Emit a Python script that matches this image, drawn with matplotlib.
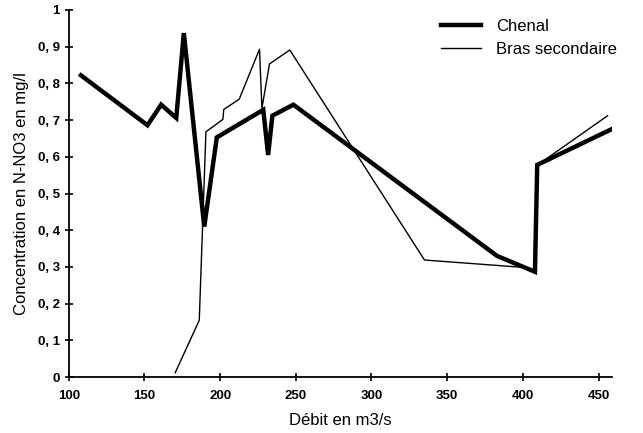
# coding: utf-8
from matplotlib import pyplot as plt
from matplotlib.ticker import FuncFormatter

plt.rcParams['font.family'] = ['Liberation Sans', 'DejaVu Sans']

# Chenal (trait épais)
chenal_x = [108, 152, 161, 171, 176, 189.5, 197.8, 228.5, 231.7, 234.5, 248.4, 383, 408, 409.5, 458.5]
chenal_y = [0.822, 0.686, 0.742, 0.706, 0.937, 0.41, 0.653, 0.728, 0.605, 0.712, 0.742, 0.33, 0.287, 0.578, 0.675]

# Bras secondaire (trait fin)
bras_x = [170.3, 186.2, 190.6, 201.8, 202.4, 212.6, 226, 227.6, 232.6, 246, 335, 400, 408, 409.8, 456]
bras_y = [0.012, 0.155, 0.668, 0.702, 0.729, 0.757, 0.893, 0.732, 0.853, 0.891, 0.319, 0.299, 0.29, 0.578, 0.712]

x_ticks = [100, 150, 200, 250, 300, 350, 400, 450]
y_ticks = [0, 0.1, 0.2, 0.3, 0.4, 0.5, 0.6, 0.7, 0.8, 0.9, 1]

fig = plt.figure(figsize=(6.43, 4.33), dpi=100)
ax = fig.add_axes([0.107, 0.129, 0.845, 0.848])

ax.plot(chenal_x, chenal_y, color='black', lw=3.2, solid_joinstyle='miter', label='Chenal')
ax.plot(bras_x, bras_y, color='black', lw=1.0, label='Bras secondaire')

ax.set_xlim(100, 459)
ax.set_ylim(0, 1)
ax.set_xticks(x_ticks)
ax.set_yticks(y_ticks)

def fmt_y(v, pos):
    if v == 0:
        return '0'
    if v == 1:
        return '1'
    return ('%.1f' % v).replace('.', ', ')

ax.yaxis.set_major_formatter(FuncFormatter(fmt_y))

for s in ['top', 'right']:
    ax.spines[s].set_visible(False)
ax.spines['left'].set_linewidth(1.3)
ax.spines['bottom'].set_linewidth(1.3)
ax.tick_params(direction='inout', length=6, width=1.2, labelsize=9.5)
ax.tick_params(axis='x', pad=6)

for lab in ax.get_xticklabels() + ax.get_yticklabels():
    lab.set_fontweight('bold')

ax.set_xlabel('Débit en m3/s', fontsize=12, labelpad=8)
ax.set_ylabel('Concentration en N-NO3 en mg/l', fontsize=12, labelpad=6)

fig.legend(loc='upper left', bbox_to_anchor=(0.686, 0.957), frameon=False,
           fontsize=12, handlelength=2.4, handletextpad=0.9, labelspacing=0.5,
           borderpad=0, borderaxespad=0)

fig.savefig('out.png', dpi=100)
